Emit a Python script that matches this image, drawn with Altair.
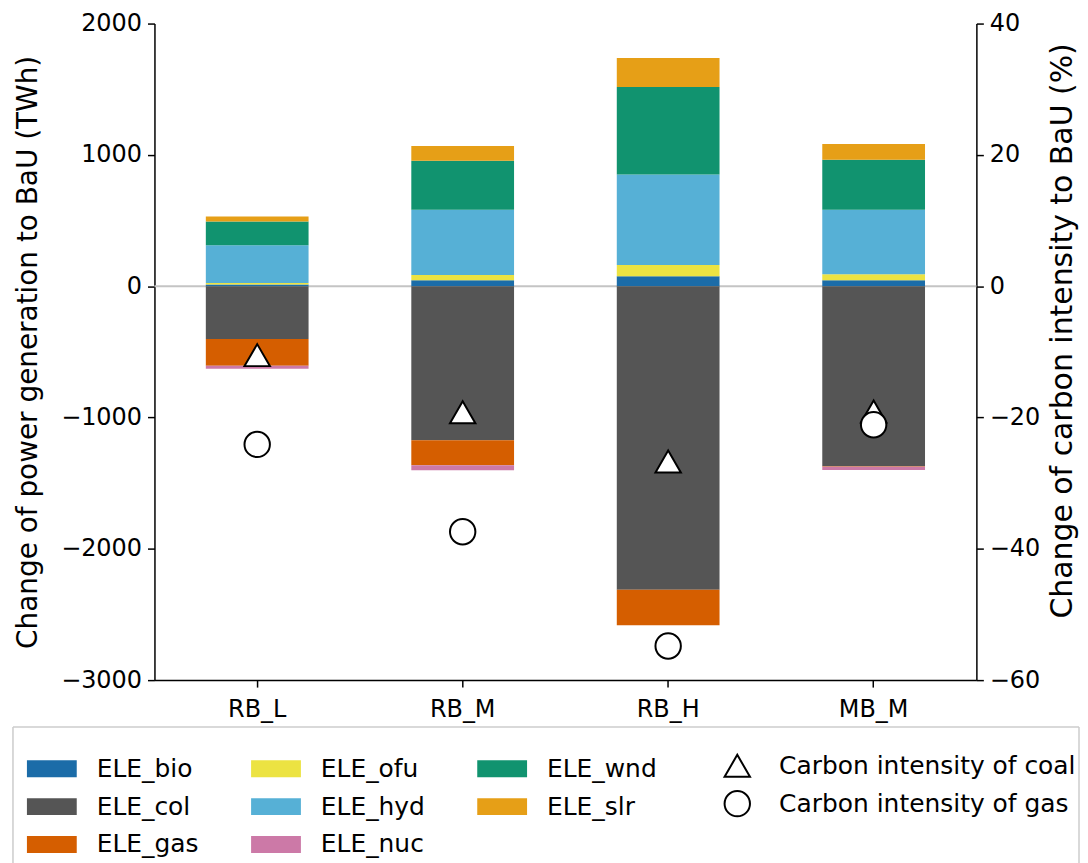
import altair as alt
import pandas as pd

scenarios = ["RB_L", "RB_M", "RB_H", "MB_M"]
techs = ["ELE_bio", "ELE_col", "ELE_gas", "ELE_ofu", "ELE_hyd", "ELE_nuc", "ELE_wnd", "ELE_slr"]
tech_colors = ["#1b6ca8", "#555555", "#d55e00", "#ece342", "#56b0d6", "#cc79a7", "#11936f", "#e69f17"]

ele_bio = [12, 45, 76, 45]
ele_col = [-402, -1174, -2311, -1371]
ele_gas = [-204, -190, -272, -5]
ele_ofu = [12, 40, 85, 45]
ele_hyd = [287, 498, 689, 493]
ele_nuc = [-23, -38, 0, -23]
ele_wnd = [181, 372, 667, 379]
ele_slr = [38, 113, 220, 121]

ci_series = ["Carbon intensity of coal", "Carbon intensity of gas"]
ci_coal = [-10.5, -19.2, -26.7, -19.1]
ci_gas = [-24.1, -37.4, -54.8, -21.1]

series_vals = [ele_bio, ele_col, ele_gas, ele_ofu, ele_hyd, ele_nuc, ele_wnd, ele_slr]
rows = []
for ti, (t, vals) in enumerate(zip(techs, series_vals)):
    for s, v in zip(scenarios, vals):
        rows.append({"Scenario": s, "Tech": t, "Value": v, "idx": ti})
df = pd.DataFrame(rows)

prow = []
for name, vals in zip(ci_series, [ci_coal, ci_gas]):
    for s, v in zip(scenarios, vals):
        prow.append({"Scenario": s, "Series": name, "Value": v})
dfp = pd.DataFrame(prow)

FS = 24
LFS = 25
xenc = alt.X("Scenario:N", sort=scenarios,
             scale=alt.Scale(paddingInner=0.5, paddingOuter=0.25),
             axis=alt.Axis(title=None, labelAngle=0, labelFontSize=FS, labelColor="black",
                           domainColor="black", domainWidth=1.5, tickColor="black",
                           tickWidth=1.5, tickSize=7, labelPadding=11))

one = pd.DataFrame({"a": [0]})
BOXL, BOXR, BOXT, BOXB = -142, 928, 706, 856
box_fill = alt.Chart(one).mark_rect(fill="white", strokeWidth=0).encode(
    x=alt.value(BOXL), x2=alt.value(BOXR), y=alt.value(BOXT), y2=alt.value(BOXB))
box_top = alt.Chart(one).mark_rule(color="#cccccc", strokeWidth=1.5).encode(
    x=alt.value(BOXL), x2=alt.value(BOXR), y=alt.value(BOXT))
box_left = alt.Chart(one).mark_rule(color="#cccccc", strokeWidth=1.5).encode(
    x=alt.value(BOXL), y=alt.value(BOXT), y2=alt.value(BOXB))
box_right = alt.Chart(one).mark_rule(color="#cccccc", strokeWidth=1.5).encode(
    x=alt.value(BOXR), y=alt.value(BOXT), y2=alt.value(BOXB))

zero = alt.Chart(one).mark_rule(color="#c4c4c4", strokeWidth=2).encode(y=alt.datum(0))

bars = alt.Chart(df).mark_bar(opacity=1).encode(
    x=xenc,
    y=alt.Y("Value:Q", stack="zero",
            scale=alt.Scale(domain=[-3000, 2000], nice=False, zero=False),
            axis=alt.Axis(title="Change of power generation to BaU (TWh)",
                          values=[-3000, -2000, -1000, 0, 1000, 2000], format="d", grid=False,
                          labelFontSize=FS, titleFontSize=28, titleFontWeight="normal",
                          labelColor="black", titleColor="black", domainColor="black",
                          domainWidth=1.5, tickColor="black", tickWidth=1.5, tickSize=7,
                          titlePadding=18, labelPadding=6)),
    color=alt.Color("Tech:N", scale=alt.Scale(domain=techs, range=tech_colors),
                    legend=alt.Legend(title=None, orient="none", legendX=-128, legendY=723,
                                      columns=3, symbolType="M-1,-0.34L1,-0.34L1,0.34L-1,0.34Z",
                                      symbolSize=2500, symbolStrokeWidth=0, labelFontSize=LFS,
                                      labelColor="black", labelOffset=20, columnPadding=52,
                                      rowPadding=0, symbolOpacity=1, labelLimit=400)),
    order=alt.Order("idx:Q"),
)

pts = alt.Chart(dfp).mark_point(filled=True, size=650, opacity=1, strokeWidth=2).encode(
    x=alt.X("Scenario:N", sort=scenarios),
    y=alt.Y("Value:Q", scale=alt.Scale(domain=[-60, 40], nice=False, zero=False),
            axis=alt.Axis(orient="right", title="Change of carbon intensity to BaU (%)",
                          values=[-60, -40, -20, 0, 20, 40], format="d", grid=False,
                          labelFontSize=FS, titleFontSize=30, titleFontWeight="normal",
                          labelColor="black", titleColor="black", domainColor="black",
                          domainWidth=1.5, tickColor="black", tickWidth=1.5, tickSize=7,
                          titlePadding=8, labelPadding=6, titleAngle=270, titleBaseline="top",
                          titleY=308)),
    fill=alt.value("white"),
    stroke=alt.value("black"),
    shape=alt.Shape("Series:N", scale=alt.Scale(domain=ci_series, range=["triangle-up", "circle"]),
                    legend=alt.Legend(title=None, orient="none", legendX=571, legendY=731,
                                      symbolSize=650, symbolStrokeWidth=2,
                                      labelFontSize=LFS, labelColor="black",
                                      labelOffset=28, rowPadding=5, labelLimit=400)),
)

left = alt.layer(box_fill, box_top, box_left, box_right, zero, bars)
chart = alt.layer(left, pts).resolve_scale(
    y="independent", shape="independent", color="independent"
).properties(width=825, height=659,
             padding={"top": 2, "left": 4, "right": 0, "bottom": 0}
).configure(font="DejaVu Sans").configure_view(stroke=None)

chart.save("out.html", embed_options={"renderer": "svg", "actions": False})
